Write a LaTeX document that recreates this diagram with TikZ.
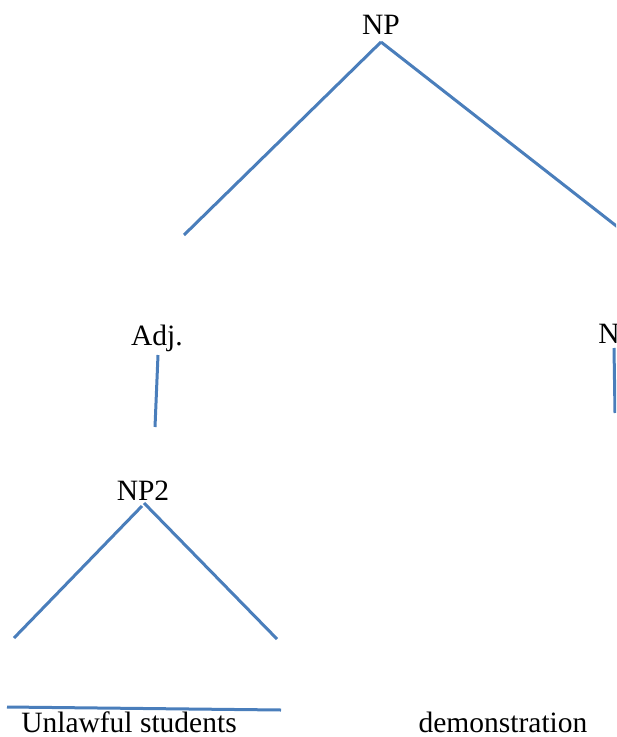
\documentclass[tikz,border=0pt]{standalone}
\usepackage{fontspec}
\setmainfont{Liberation Serif}
\definecolor{lineblue}{RGB}{74,126,187}
\begin{document}
\begin{tikzpicture}[x=0.5pt, y=-0.5pt, line width=1.5pt, word/.style={anchor=base,inner sep=0pt,font=\fontsize{14.75}{17}\selectfont}]
\clip (0,0) rectangle (616,737);
\begin{scope}
\node[word] (np) at (381,35) {NP};
\node[word] (adj) at (157,345) {Adj.};
\node[word] (n) at (609,343) {N};
\node[word] (np2) at (143,500) {NP2};
\node[word] (unlawful) at (129,732) {Unlawful students};
\node[word] (demo) at (503,732) {demonstration};
%\node[word] () at (,) {};
\end{scope}
\begin{scope}
\coordinate (np-top) at (381,42);
\coordinate (np-l) at (184,235);
\coordinate (np-r) at (633,239);
\coordinate (adj-a) at (158,355);
\coordinate (adj-b) at (155,427);
\coordinate (n-a) at (614,348);
\coordinate (n-b) at (615,413);
\coordinate (np2-l) at (142,506);
\coordinate (np2-r) at (144,503);
\coordinate (leaf-l) at (14,638);
\coordinate (leaf-r) at (277,639);
\coordinate (bar-l) at (7,707);
\coordinate (bar-r) at (281,710);
\end{scope}
\begin{scope}[lineblue]
\draw (np-top) edge (np-l);
\draw (np-top) edge (np-r);
\draw (adj-a) edge (adj-b);
\draw (n-a) edge (n-b);
\draw (np2-l) edge (leaf-l);
\draw (np2-r) edge (leaf-r);
\draw (bar-l) edge (bar-r);
%\draw () edge ();
\end{scope}
\end{tikzpicture}
\end{document}
